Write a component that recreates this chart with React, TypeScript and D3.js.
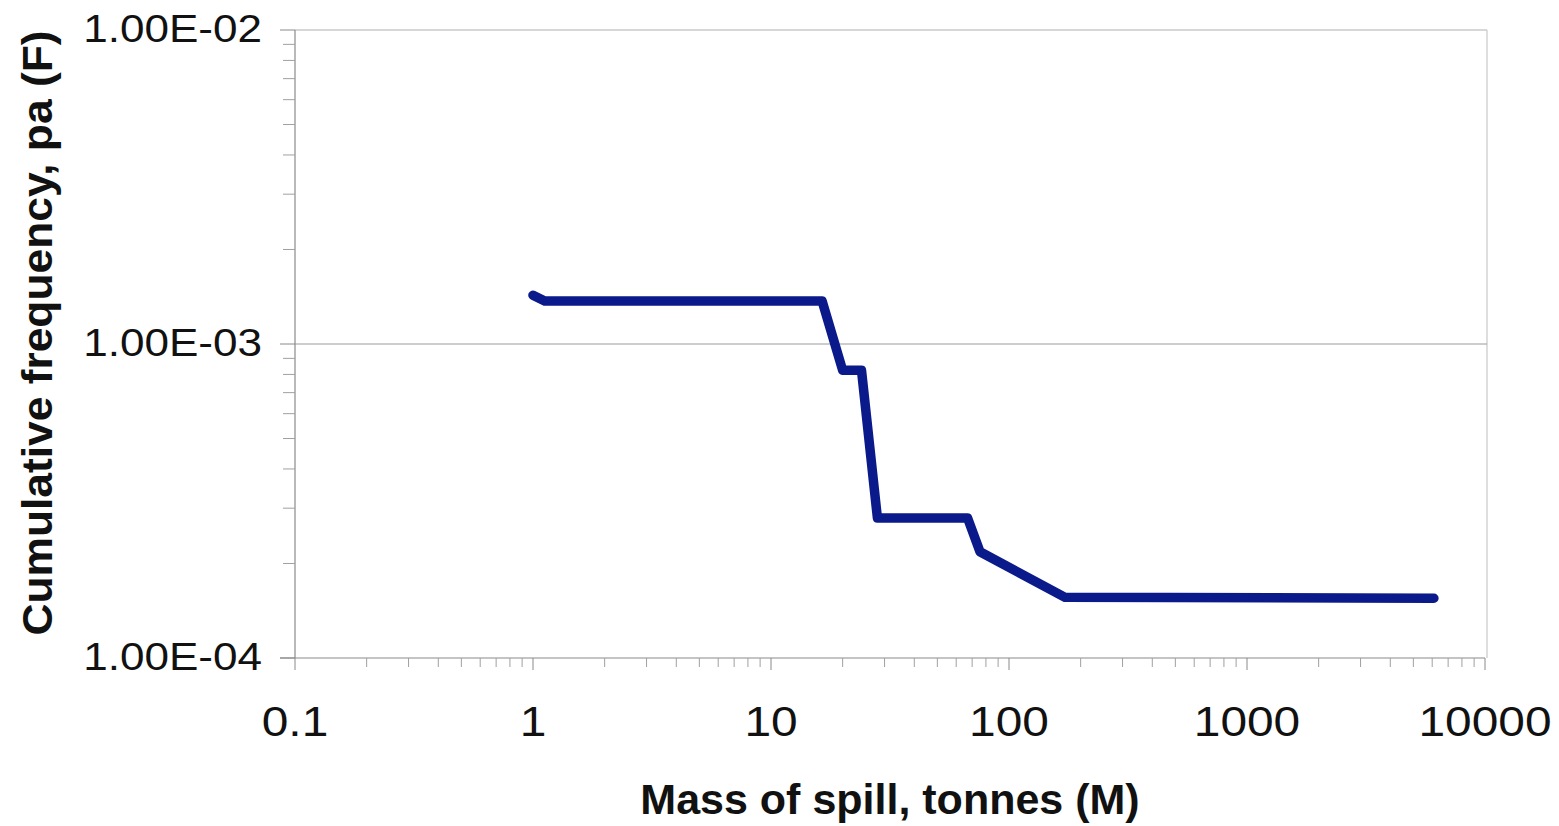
import React from "react";
import * as d3 from "d3";

const massValues = [1.0, 1.12, 16.4, 20, 24, 28, 67, 75.5, 172, 6100];
const freqValues = [1.43e-3, 1.37e-3, 1.37e-3, 8.25e-4, 8.25e-4, 2.79e-4, 2.79e-4, 2.18e-4, 1.56e-4, 1.55e-4];
const xTickValues = [0.1, 1, 10, 100, 1000, 10000];
const xTickLabels = ["0.1", "1", "10", "100", "1000", "10000"];
const yTickValues = [1e-2, 1e-3, 1e-4];
const yTickLabels = ["1.00E-02", "1.00E-03", "1.00E-04"];

const W = 1559;
const H = 826;
const left = 295;
const right = 1487;
const top = 30;
const bottom = 658;
const font = "'Liberation Sans', Arial, sans-serif";

export default function App() {
  const x = d3.scaleLog().domain([0.1, 10000]).range([left, 1485]);
  const y = d3.scaleLog().domain([1e-4, 1e-2]).range([bottom, top]);

  const minorX: number[] = [];
  for (let e = -1; e < 4; e++) for (let m = 2; m <= 9; m++) minorX.push(m * Math.pow(10, e));
  const minorY: number[] = [];
  for (let e = -4; e < -2; e++) for (let m = 2; m <= 9; m++) minorY.push(m * Math.pow(10, e));

  const pts = massValues.map((m, i) => [m, freqValues[i]] as [number, number]);
  const line = d3
    .line<[number, number]>()
    .x((d) => x(d[0]))
    .y((d) => y(d[1]));

  const axisColor = "#8a8a8a";

  return (
    <svg
      width={W}
      height={H}
      style={{ position: "absolute", left: 0, top: 0, background: "#fff" }}
    >
      <rect x={0} y={0} width={W} height={H} fill="#fff" />
      <line x1={left} x2={right} y1={top} y2={top} stroke="#b0b0b0" strokeWidth={1.2} />
      <line x1={right} x2={right} y1={top} y2={bottom} stroke="#c8c8c8" strokeWidth={1.2} />
      {yTickValues.slice(1, 2).map((v) => (
        <line key={"g" + v} x1={left} x2={right} y1={y(v)} y2={y(v)} stroke="#9a9a9a" strokeWidth={1} />
      ))}
      <line x1={left} x2={left} y1={top} y2={bottom} stroke={axisColor} strokeWidth={1.2} />
      <line x1={280} x2={1485} y1={bottom} y2={bottom} stroke={axisColor} strokeWidth={1.2} />
      {yTickValues.map((v) => (
        <line key={"ym" + v} x1={280} x2={left} y1={y(v)} y2={y(v)} stroke={axisColor} strokeWidth={1} />
      ))}
      {minorY.map((v) => (
        <line key={"yn" + v} x1={283} x2={left} y1={y(v)} y2={y(v)} stroke="#a0a0a0" strokeWidth={1} />
      ))}
      {xTickValues.map((v) => (
        <line key={"xm" + v} x1={x(v)} x2={x(v)} y1={bottom} y2={bottom + 12} stroke={axisColor} strokeWidth={1} />
      ))}
      {minorX.map((v) => (
        <line key={"xn" + v} x1={x(v)} x2={x(v)} y1={bottom} y2={bottom + 9} stroke="#a0a0a0" strokeWidth={1} />
      ))}
      {yTickValues.map((v, i) => (
        <text
          key={"yl" + v}
          transform={`translate(262,${y(v) + 12}) scale(1.16,1)`}
          textAnchor="end"
          fontFamily={font}
          fontSize={38}
          fill="#111"
        >
          {yTickLabels[i]}
        </text>
      ))}
      {xTickValues.map((v, i) => (
        <text
          key={"xl" + v}
          transform={`translate(${x(v)},736) scale(1.14,1)`}
          textAnchor="middle"
          fontFamily={font}
          fontSize={42}
          fill="#111"
        >
          {xTickLabels[i]}
        </text>
      ))}
      <text
        x={890}
        y={814}
        textAnchor="middle"
        fontFamily={font}
        fontSize={43}
        fontWeight="bold"
        fill="#111"
      >
        Mass of spill, tonnes (M)
      </text>
      <text
        transform={`translate(52,333) rotate(-90)`}
        textAnchor="middle"
        fontFamily={font}
        fontSize={42}
        fontWeight="bold"
        fill="#111"
        textLength={605}
        lengthAdjust="spacingAndGlyphs"
      >
        Cumulative frequency, pa (F)
      </text>
      <path
        d={line(pts) || ""}
        fill="none"
        stroke="#0b1a8a"
        strokeWidth={9.5}
        strokeLinecap="round"
        strokeLinejoin="round"
      />
    </svg>
  );
}
